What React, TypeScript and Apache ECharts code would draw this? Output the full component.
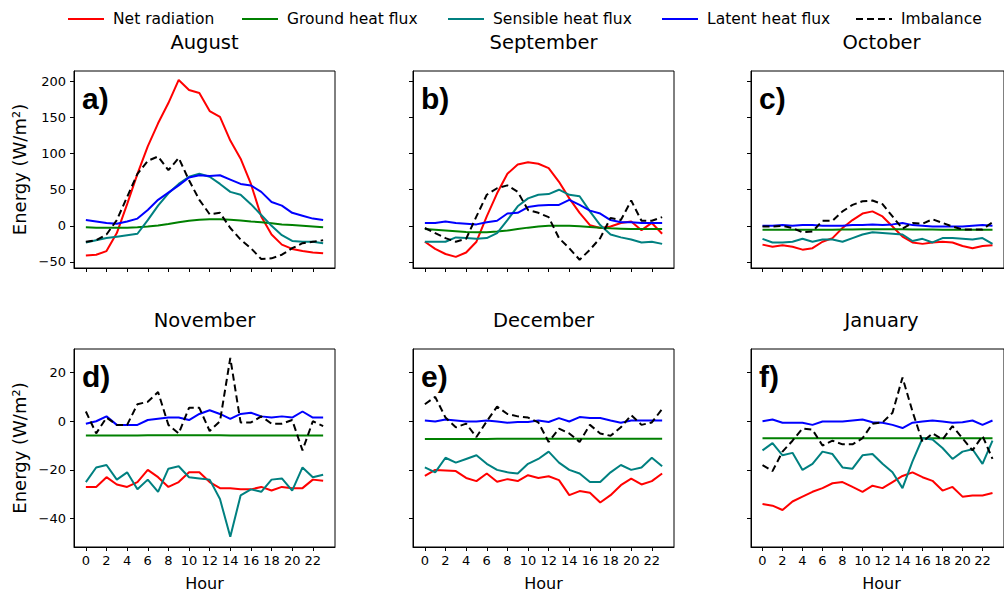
import React, { useEffect, useRef } from "react";
import * as echarts from "echarts";

// Hour of day (x values shared by every panel)
const hours = Array.from({ length: 24 }, (_, i) => i);
const hourTicks = [0, 2, 4, 6, 8, 10, 12, 14, 16, 18, 20, 22];
const topTicks = [-50, 0, 50, 100, 150, 200];
const bottomTicks = [-40, -20, 0, 20];

const months = ["August", "September", "October", "November", "December", "January"];
const panelLetters = ["a)", "b)", "c)", "d)", "e)", "f)"];
const seriesNames = ["Net radiation", "Ground heat flux", "Sensible heat flux", "Latent heat flux", "Imbalance"];

// August
const augNet = [-41, -40, -35, -10, 30, 72, 110, 142, 170, 202, 188, 184, 159, 151, 118, 93, 58, 13, -12, -26, -32, -35, -37, -38];
const augGround = [-2, -2.5, -2.5, -2.5, -2.5, -2, -1, 0.5, 2.5, 5, 7, 8.5, 9, 9, 8.5, 7.5, 6, 5, 3.5, 2, 1, 0, -1, -2];
const augSensible = [-23, -20, -17, -15, -13, -11, 8, 28, 45, 58, 68, 72, 68, 58, 47, 43, 30, 15, 0, -13, -21, -22, -22, -24];
const augLatent = [8, 6, 4, 3, 6, 10, 22, 36, 46, 56, 67, 70, 69, 70, 64, 58, 56, 47, 33, 28, 18, 14, 10, 8];
const augImbalance = [-22, -20, -12, 8, 40, 72, 90, 96, 77, 94, 63, 36, 16, 18, -3, -19, -31, -46, -45, -40, -31, -24, -22, -20];

// September
const sepNet = [-22, -32, -39, -43, -37, -22, 13, 45, 72, 85, 88, 86, 80, 61, 38, 18, 1, -3, -1, 4, 6, -6, 4, -11];
const sepGround = [-4.5, -5.5, -6.5, -7.5, -8.5, -9, -9, -8, -6.5, -4.5, -2.5, -1, 0, 0, 0, -0.5, -1.5, -2.5, -3.5, -4, -4.5, -4.5, -4.5, -4.5];
const sepSensible = [-22, -22, -22, -16, -17, -18, -17, -10, 8, 27, 38, 43, 44, 50, 43, 41, 20, 1, -12, -16, -19, -23, -22, -25];
const sepLatent = [4, 4, 6, 4, 3, 2, 5, 7, 17, 18, 26, 28, 29, 29, 36, 29, 21, 17, 8, 5, 5, 4, 4, 4];
const sepImbalance = [-3, -10, -17, -22, -18, 13, 43, 52, 56, 47, 22, 18, 12, -17, -31, -47, -33, -17, 11, 8, 35, 7, 7, 12];

// October
const octNet = [-26, -29, -27, -29, -33, -31, -22, -17, -3, 8, 17, 20, 13, -1, -15, -23, -25, -23, -22, -23, -28, -31, -28, -27];
const octGround = [-5.5, -5.5, -5.5, -5.5, -5.5, -5.5, -5.5, -5.3, -5.1, -5, -4.9, -4.8, -4.8, -4.8, -4.9, -5, -5.1, -5.2, -5.3, -5.4, -5.5, -5.5, -5.5, -5.5];
const octSensible = [-18, -23, -23, -22, -18, -22, -19, -19, -22, -17, -12, -9, -10, -11, -12, -21, -18, -23, -17, -17, -18, -19, -17, -25];
const octLatent = [0, 0, 1, 0, 1, 1, 0, 0, 0, 1, 1, 2, 1, 2, 4, 1, 0, -1, -1, -1, -1, 0, 1, 0];
const octImbalance = [-1, -1, 0, -3, -9, -8, 7, 7, 20, 29, 34, 35, 30, 13, -4, 4, 3, 9, 4, -1, -5, -5, -5, 5];

// November
const novNet = [-27, -27, -23, -26, -27, -25, -20, -23, -27, -25, -21, -21, -25, -27.5, -27.5, -28, -28, -27, -28.5, -27, -27.5, -27.5, -24, -24.5];
const novGround = [-5.9, -5.9, -5.9, -5.9, -5.9, -5.9, -5.8, -5.8, -5.8, -5.8, -5.8, -5.8, -5.8, -5.8, -5.9, -5.9, -5.9, -5.9, -5.9, -5.9, -5.9, -5.9, -5.9, -5.9];
const novSensible = [-25, -19, -18, -24, -21, -28, -24, -29, -19.5, -18.5, -23, -23.5, -24, -32, -47.5, -30.5, -28, -29, -24, -23.5, -28.5, -19, -23, -22];
const novLatent = [-1, 0, 2, -1.5, -1.5, -1.5, 0.5, 1, 1.5, 1.5, 0.5, 3, 4.5, 3, 1, 3, 3.5, 2, 1.5, 2, 1.5, 4, 1.5, 1.5];
const novImbalance = [4, -5, 1.5, -1.5, -1.5, 7, 8, 12, -1.5, -5, 5.5, 5.5, -4, 0, 26, -0.5, -0.5, 2, -1, -1, 0.5, -12, 0, -2];

// December
const decNet = [-22.5, -20, -20.2, -20.5, -23.3, -24.6, -21.5, -24.9, -23.8, -24.6, -22.2, -23.3, -22.6, -24.2, -30.4, -28.7, -29.4, -33.4, -30.4, -26.3, -23.6, -26, -24.6, -21.5];
const decGround = [-7.3, -7.3, -7.3, -7.3, -7.3, -7.3, -7.3, -7.2, -7.2, -7.2, -7.2, -7.2, -7.2, -7.2, -7.2, -7.2, -7.2, -7.2, -7.2, -7.2, -7.2, -7.2, -7.2, -7.2];
const decSensible = [-19, -21, -15, -17, -15.5, -14, -17.5, -20, -21, -21.5, -17.5, -15.5, -12.5, -17, -20, -21.5, -25, -25, -21, -18, -20, -19, -15, -18.5];
const decLatent = [0.3, -0.1, 0.7, 0.3, -0.1, -0.1, 0.3, -0.1, -0.6, -0.3, -0.3, 0.3, -0.3, 1.3, -0.1, 1.7, 1.3, 1.3, 0.3, -0.6, 0.3, 0.3, 0.3, 0.3];
const decImbalance = [7, 10, 1.5, -2.5, -1, -6.5, 0, 6, 3, 2, 1.5, -0.5, -8.5, -3, -5, -8.5, -1.5, -5, -6, -2.5, 2.5, -1.5, -0.5, 5];

// January
const janNet = [-34, -34.7, -36.5, -33, -31, -29, -27.5, -25.5, -25, -27, -29, -26.5, -27.5, -25, -22.5, -21, -23, -24.5, -28.5, -27, -31, -30.5, -30.5, -29.5];
const janGround = [-7, -7, -7, -7, -7, -7, -7, -7, -7, -7, -7, -7, -7, -7, -7, -7, -7, -7, -7, -7, -7, -7, -7, -7];
const janSensible = [-12, -9, -14, -13, -20, -17.5, -12.5, -13.5, -19, -19.5, -14, -13.5, -17.5, -21, -27.5, -16.5, -7, -7.5, -11, -15.5, -12.5, -11.5, -17.5, -8];
const janLatent = [0, 0.7, -0.6, -0.6, -0.6, -1.5, -0.1, -0.1, -0.1, 0.3, 0.7, -0.4, -0.6, -1.5, -2.8, -0.6, -0.1, 0.3, -0.1, -0.6, -0.4, 0.3, -1.5, 0.3];
const janImbalance = [-18, -20.5, -12.5, -8, -3, -3.5, -10, -8, -9.5, -9.5, -7, -1, -0.5, 3.5, 18, 4, -8.5, -5, -7.5, -2, -7, -12, -6, -15.5];

const panels = [
  [augNet, augGround, augSensible, augLatent, augImbalance],
  [sepNet, sepGround, sepSensible, sepLatent, sepImbalance],
  [octNet, octGround, octSensible, octLatent, octImbalance],
  [novNet, novGround, novSensible, novLatent, novImbalance],
  [decNet, decGround, decSensible, decLatent, decImbalance],
  [janNet, janGround, janSensible, janLatent, janImbalance],
];

const colors = ["#ff0000", "#008000", "#008080", "#0000ff", "#000000"];
const FONT = "'DejaVu Sans', sans-serif";

const colLefts = [74, 413, 751];
const rowTops = [71, 349];
const gridW = 261;
const rowHeights = [197, 198];
// left edge of each legend entry box
const legendLefts = [62, 236, 442, 656, 850];

export default function App() {
  const ref = useRef<HTMLDivElement>(null);

  useEffect(() => {
    if (!ref.current) return;
    const chart = echarts.init(ref.current, undefined, { renderer: "svg" });

    const grid: any[] = [];
    const xAxis: any[] = [];
    const yAxis: any[] = [];
    const series: any[] = [];
    const graphic: any[] = [];

    panels.forEach((panel, i) => {
      const row = Math.floor(i / 3);
      const col = i % 3;
      const left = colLefts[col];
      const top = rowTops[row];
      const h = rowHeights[row];
      grid.push({
        left,
        top,
        width: gridW,
        height: h,
        show: true,
        borderColor: "#000",
        borderWidth: 1,
        backgroundColor: "transparent",
      });
      xAxis.push({
        type: "value",
        gridIndex: i,
        min: -1.15,
        max: 24.15,
        axisLine: { show: true, onZero: false, lineStyle: { color: "#000", width: 1 } },
        axisTick: { show: true, length: 4, customValues: hourTicks, lineStyle: { color: "#000" } },
        axisLabel: {
          show: row === 1,
          customValues: hourTicks,
          margin: 7,
          fontSize: 13,
          fontFamily: FONT,
          color: "#000",
        },
        splitLine: { show: false },
      });
      const ticks = row === 0 ? topTicks : bottomTicks;
      yAxis.push({
        type: "value",
        gridIndex: i,
        min: row === 0 ? -58.4 : -51.7,
        max: row === 0 ? 214.4 : 29.7,
        axisLine: { show: true, onZero: false, lineStyle: { color: "#000", width: 1 } },
        axisTick: { show: true, length: 4, customValues: ticks, lineStyle: { color: "#000" } },
        axisLabel: {
          show: col === 0,
          customValues: ticks,
          margin: 8,
          fontSize: 13,
          fontFamily: FONT,
          color: "#000",
          formatter: (v: number) => (v < 0 ? "\u2212" + Math.abs(v) : String(v)),
        },
        splitLine: { show: false },
      });
      panel.forEach((vals, s) => {
        series.push({
          name: seriesNames[s],
          type: "line",
          xAxisIndex: i,
          yAxisIndex: i,
          data: hours.map((hr, k) => [hr, vals[k]]),
          symbol: "none",
          showSymbol: false,
          color: colors[s],
          lineStyle: { color: colors[s], width: 2, type: s === 4 ? [7, 4] : "solid" },
          z: 2 + s,
          silent: true,
        });
      });

      // month title
      graphic.push({
        type: "text",
        x: left + gridW / 2,
        y: top - 29,
        style: {
          text: months[i],
          font: `19.5px ${FONT}`,
          fill: "#000",
          textAlign: "center",
          textVerticalAlign: "middle",
        },
      });
      // panel letter
      graphic.push({
        type: "text",
        x: left + 8,
        y: top + 27,
        style: {
          text: panelLetters[i],
          font: `bold 30px 'Liberation Sans', Arial, sans-serif`,
          fill: "#000",
          textAlign: "left",
          textVerticalAlign: "middle",
        },
      });
      if (row === 1) {
        graphic.push({
          type: "text",
          x: left + gridW / 2,
          y: 583,
          style: {
            text: "Hour",
            font: `16px ${FONT}`,
            fill: "#000",
            textAlign: "center",
            textVerticalAlign: "middle",
          },
        });
      }
      if (col === 0) {
        graphic.push({
          type: "text",
          x: 19,
          y: top + h / 2,
          rotation: Math.PI / 2,
          style: {
            text: "Energy (W/m\u00b2)",
            font: `18px ${FONT}`,
            fill: "#000",
            textAlign: "center",
            textVerticalAlign: "middle",
          },
        });
      }
    });

    const legend = seriesNames.map((name, s) => ({
      data: [name],
      top: 6,
      left: legendLefts[s],
      itemWidth: 36,
      itemHeight: 12,
      itemStyle: { opacity: 0 },
      lineStyle: { width: 2 },
      textStyle: { fontSize: 15.5, fontFamily: FONT, color: "#000", padding: [0, 0, 0, 4] },
      selectedMode: false,
    }));

    chart.setOption({
      animation: false,
      backgroundColor: "#fff",
      legend,
      grid,
      xAxis,
      yAxis,
      series,
      graphic,
    });

    return () => chart.dispose();
  }, []);

  return (
    <div
      ref={ref}
      style={{ position: "absolute", left: 0, top: 0, width: 1004, height: 592 }}
    />
  );
}
